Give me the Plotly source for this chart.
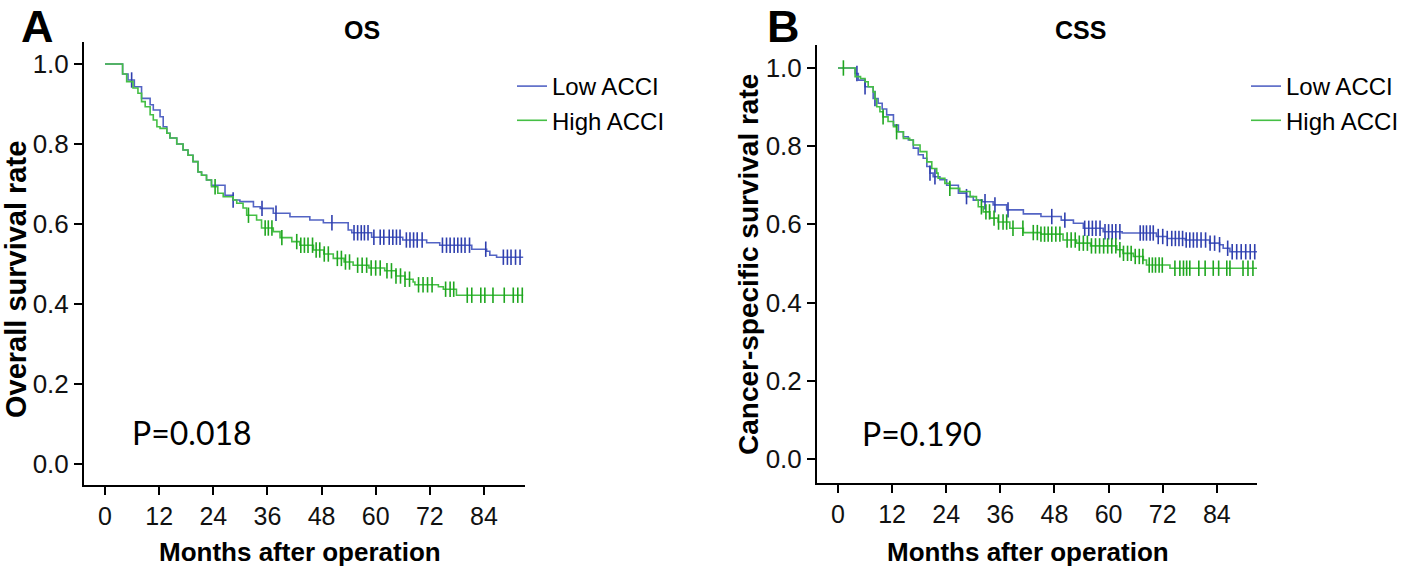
"""
Kaplan-Meier curves (OS / CSS) by ACCI group, redrawn with Plotly.
"""

import numpy as np
import plotly.graph_objects as go

# ── Data: step knots (months, survival) and censoring times ─────
os_low_t = [0, 3.9, 5.1, 6.5, 8.1, 10.0, 10.7, 12.2, 12.9, 13.7, 14.4, 15.9, 17.3, 18.4,
            19.5, 20.6, 21.4, 22.5, 23.6, 26.6, 28.4, 29.9, 32.9, 34.4, 37.3, 41.0, 45.4,
            48.4, 53.9, 54.7, 59.1, 66.0, 71.3, 74.2, 81.3, 84.6, 85.3, 86.8]
os_low_s = [1.0, 0.975, 0.960, 0.943, 0.914, 0.898, 0.885, 0.868, 0.843, 0.827, 0.815, 0.800,
            0.785, 0.772, 0.756, 0.730, 0.722, 0.710, 0.697, 0.672, 0.660, 0.656, 0.643, 0.639,
            0.627, 0.618, 0.610, 0.603, 0.585, 0.578, 0.567, 0.560, 0.553, 0.547, 0.537, 0.532,
            0.522, 0.517]
os_low_cens = [5.9, 28.4, 34.8, 37.9, 50.3, 55.2, 56.0, 56.8, 57.5, 58.3, 59.6, 61.0, 61.8,
               63.0, 63.8, 64.6, 65.4, 66.8, 67.6, 68.4, 69.2, 70.3, 74.8, 75.7, 76.5, 77.4,
               78.2, 79.0, 79.8, 80.8, 84.4, 88.3, 89.2, 90.0, 91.0, 92.0]
os_high_t = [0, 3.9, 4.8, 6.2, 7.3, 8.1, 8.9, 10.0, 10.7, 11.5, 12.2, 13.7, 14.4, 15.9, 17.3,
             18.4, 19.5, 20.6, 21.4, 22.5, 23.6, 25.0, 26.2, 28.4, 29.2, 30.6, 31.4, 33.6,
             34.7, 37.3, 38.8, 41.4, 43.2, 46.2, 48.5, 50.6, 53.0, 55.0, 58.5, 62.0, 64.5,
             66.5, 68.3, 68.7, 73.9, 75.0, 77.9]
os_high_s = [1.0, 0.975, 0.956, 0.940, 0.927, 0.906, 0.893, 0.873, 0.860, 0.843, 0.839, 0.827,
             0.815, 0.800, 0.785, 0.772, 0.756, 0.730, 0.722, 0.710, 0.693, 0.677, 0.668, 0.660,
             0.652, 0.640, 0.622, 0.610, 0.590, 0.581, 0.566, 0.556, 0.547, 0.535, 0.525, 0.514,
             0.505, 0.497, 0.490, 0.483, 0.470, 0.462, 0.455, 0.448, 0.443, 0.437, 0.422]
os_high_cens = [24.4, 31.8, 35.5, 36.2, 37.0, 39.2, 42.5, 43.4, 44.2, 45.0, 46.0, 46.8, 47.6,
                48.6, 49.5, 51.5, 52.4, 53.3, 54.2, 56.0, 57.0, 58.0, 59.0, 60.0, 61.0, 62.5,
                63.5, 64.5, 65.5, 66.5, 67.5, 69.5, 70.5, 71.5, 72.5, 75.5, 76.5, 77.3, 80.3,
                81.3, 83.3, 84.2, 86.0, 88.5, 90.5, 91.5, 92.5]
os_end = 92.7

css_low_t = [0, 3.8, 4.5, 6.0, 7.8, 8.9, 9.8, 10.8, 12.3, 13.4, 14.5, 15.6, 16.7, 17.8, 18.9,
             19.7, 20.4, 21.1, 22.6, 24.1, 26.7, 28.5, 30.0, 32.0, 34.4, 37.4, 41.1, 45.0,
             49.5, 52.2, 54.4, 58.8, 63.0, 70.6, 73.0, 77.0, 82.4, 84.6, 85.4, 86.9]
css_low_s = [1.0, 0.986, 0.969, 0.952, 0.922, 0.910, 0.895, 0.880, 0.854, 0.837, 0.824, 0.816,
             0.795, 0.778, 0.769, 0.748, 0.731, 0.722, 0.714, 0.700, 0.680, 0.671, 0.662, 0.658,
             0.650, 0.637, 0.627, 0.620, 0.611, 0.603, 0.590, 0.581, 0.578, 0.569, 0.564, 0.560,
             0.552, 0.548, 0.539, 0.530]
css_low_cens = [4.2, 6.0, 8.2, 20.4, 21.5, 28.5, 32.6, 34.8, 37.7, 47.4, 50.3, 54.7, 55.6,
                56.4, 57.2, 58.1, 59.2, 60.0, 60.8, 61.6, 62.5, 67.0, 67.7, 68.4, 69.2, 69.9,
                71.0, 72.0, 73.0, 74.0, 74.8, 75.6, 76.4, 77.2, 78.0, 78.8, 79.6, 80.5, 81.5,
                82.5, 83.5, 84.6, 86.4, 87.4, 88.4, 89.4, 90.4, 91.4, 92.4]
css_high_t = [0, 3.8, 5.0, 6.0, 6.7, 7.8, 8.2, 8.6, 9.3, 10.0, 11.1, 12.3, 13.0, 14.5, 15.9,
              16.7, 18.2, 19.7, 20.8, 21.9, 22.2, 23.7, 24.8, 27.0, 29.3, 30.7, 31.1, 32.2,
              33.7, 35.5, 38.1, 41.1, 45.0, 49.9, 52.9, 56.0, 61.8, 63.2, 65.5, 67.7, 68.4,
              73.6]
css_high_s = [1.0, 0.978, 0.973, 0.965, 0.952, 0.939, 0.920, 0.901, 0.888, 0.875, 0.863, 0.850,
              0.837, 0.820, 0.816, 0.803, 0.786, 0.760, 0.743, 0.731, 0.718, 0.705, 0.692, 0.684,
              0.671, 0.662, 0.645, 0.632, 0.616, 0.606, 0.590, 0.579, 0.575, 0.560, 0.552, 0.545,
              0.535, 0.526, 0.518, 0.509, 0.496, 0.488]
css_high_cens = [1.2, 10.0, 13.0, 24.8, 31.8, 32.8, 33.6, 34.6, 35.6, 36.6, 37.4, 38.8, 41.0,
                 43.3, 44.2, 45.0, 45.8, 46.6, 47.4, 48.3, 49.2, 50.8, 51.7, 52.6, 53.5, 54.4,
                 55.3, 56.2, 57.1, 58.0, 58.9, 59.8, 60.7, 61.6, 62.5, 63.3, 64.2, 65.0, 65.9,
                 66.8, 67.6, 69.0, 69.7, 70.4, 71.2, 71.9, 74.7, 75.8, 76.6, 77.3, 78.0, 80.0,
                 81.4, 83.2, 84.4, 86.2, 86.9, 89.8, 90.9, 92.0]
css_end = 92.9

month_ticks = [0, 12, 24, 36, 48, 60, 72, 84]
rate_ticks = [0.0, 0.2, 0.4, 0.6, 0.8, 1.0]
groups = ["Low ACCI", "High ACCI"]

LINE_COL = {"Low ACCI": "#5364c4", "High ACCI": "#45bf45"}
MARK_COL = {"Low ACCI": "#2f3fae", "High ACCI": "#1fa61f"}
FONT = "Arial, Liberation Sans, sans-serif"

# figure fills the whole 1418x572 page (body margin removed below)
W, H = 1418, 572


def px(x):
    return x / W


def py(y):
    return 1 - y / H


def step_value(t, s, at):
    idx = np.searchsorted(np.asarray(t), np.asarray(at), side="right") - 1
    return np.asarray(s)[idx]


fig = go.Figure()

panels = [
    ("x", "y", "legend", [(os_low_t, os_low_s, os_low_cens), (os_high_t, os_high_s, os_high_cens)], os_end),
    ("x2", "y2", "legend2", [(css_low_t, css_low_s, css_low_cens), (css_high_t, css_high_s, css_high_cens)], css_end),
]

# ── Curves + censor marks ───────────────────────────────────────
for xa, ya, leg, curves, end in panels:
    for name, (t, s, cens) in zip(groups, curves):
        fig.add_trace(
            go.Scatter(
                x=list(t) + [end],
                y=list(s) + [s[-1]],
                mode="lines",
                line=dict(color=LINE_COL[name], width=1.6, shape="hv"),
                name=name,
                legend=leg,
                legendgroup=leg + name,
                xaxis=xa,
                yaxis=ya,
            )
        )
        fig.add_trace(
            go.Scatter(
                x=cens,
                y=step_value(t, s, cens),
                mode="markers",
                marker=dict(symbol="line-ns", size=11,
                            line=dict(color=MARK_COL[name], width=1.6)),
                showlegend=False,
                legendgroup=leg + name,
                xaxis=xa,
                yaxis=ya,
            )
        )

axis_common = dict(
    showline=True, linecolor="black", linewidth=2, showgrid=False, zeroline=False,
    ticks="outside", ticklen=8, tickwidth=1.5, tickcolor="black",
)
xaxis_style = dict(axis_common, tickvals=month_ticks, tickfont=dict(family=FONT, size=25, color="#111"))
yaxis_style = dict(axis_common, tickvals=rate_ticks, tickformat=".1f",
                   tickfont=dict(family=FONT, size=26, color="#111"))
legend_style = dict(xanchor="left", yanchor="top", font=dict(family=FONT, size=24, color="black"),
                    tracegroupgap=0, bgcolor="rgba(0,0,0,0)")

fig.update_layout(
    width=W,
    height=H,
    margin=dict(l=0, r=0, t=0, b=0),
    paper_bgcolor="white",
    plot_bgcolor="white",
    xaxis=dict(xaxis_style, domain=[px(84), px(525)], range=[-4.66, 93.1], anchor="y"),
    yaxis=dict(yaxis_style, domain=[py(485), py(42)], range=[-0.0525, 1.055], anchor="x"),
    xaxis2=dict(xaxis_style, domain=[px(817), px(1257)], range=[-4.65, 92.9], anchor="y2"),
    yaxis2=dict(yaxis_style, domain=[py(483), py(45)], range=[-0.0614, 1.0588], anchor="x2"),
    legend=dict(legend_style, x=px(512), y=py(64)),
    legend2=dict(legend_style, x=px(1246), y=py(64)),
    showlegend=True,
)


# ── Text: panel letters, titles, axis titles, p-values ──────────
def page_text(text, x, y, size, bold=True, angle=0, xanchor="center", yanchor="middle"):
    fig.add_annotation(
        text=f"<b>{text}</b>" if bold else text,
        x=px(x), y=py(y), xref="paper", yref="paper",
        xanchor=xanchor, yanchor=yanchor, showarrow=False, textangle=angle,
        font=dict(family=FONT, size=size, color="black"), borderpad=0,
    )


page_text("A", 20, 0, 45, xanchor="left", yanchor="top")
page_text("B", 766, 0, 45, xanchor="left", yanchor="top")
page_text("OS", 362, 30, 25)
page_text("CSS", 1080, 30, 25)
page_text("Overall survival rate", 16, 280, 29, angle=-90)
page_text("Cancer-specific survival rate", 748, 264, 28, angle=-90)
page_text("Months after operation", 300, 552, 26)
page_text("Months after operation", 1028, 552, 26)

for xa, ya, p, t0, s0 in [("x", "y", "P=0.018", 5.5, 0.08), ("x2", "y2", "P=0.190", 4.9, 0.066)]:
    fig.add_annotation(
        text=p, x=t0, y=s0, xref=xa, yref=ya, xanchor="left", yanchor="middle",
        showarrow=False, font=dict(family="Lato, Open Sans, sans-serif", size=32, color="black"),
    )

fig.write_html(
    "out.html",
    config={"displayModeBar": False},
    post_script="document.body.style.margin = '0';",
)
